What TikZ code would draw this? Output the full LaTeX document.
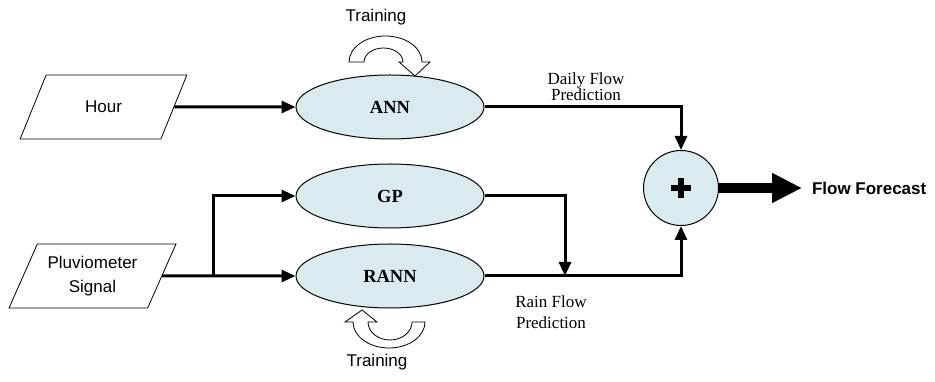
\documentclass[tikz,border=0pt]{standalone}
\usepackage{fontspec}
\setmainfont{Liberation Serif}
\newfontfamily\arialfont{Liberation Sans}
\usepackage{xcolor}
\usepackage{tikz}
\usetikzlibrary{calc,arrows.meta,positioning,shapes.geometric}
\definecolor{procfill}{HTML}{DAEBEF}
\definecolor{inkc}{HTML}{000000}
\tikzset{
  ar/.style={-{Triangle[length=14pt,width=12pt]},line width=3pt,inkc},
  inbox/.style={trapezium,trapezium left angle=62,trapezium right angle=118,trapezium stretches=true,
    draw,line width=0.8pt,minimum width=167pt,minimum height=64pt,align=center,
    font=\arialfont\fontsize{17}{24}\selectfont},
  proc/.style={ellipse,draw,line width=1pt,fill=procfill,minimum width=188pt,minimum height=64pt,
    font=\bfseries\fontsize{18.5}{20}\selectfont},
  lbl/.style={align=center,font=\fontsize{17}{15}\selectfont},
  trainlbl/.style={font=\arialfont\fontsize{17}{20}\selectfont},
  turn/.style={draw,line width=0.8pt,fill=white,line join=miter}
}
\begin{document}
\begin{tikzpicture}[x=1pt,y=1pt]
\useasboundingbox (0,0) rectangle (935,382);
\node[inbox] (hour) at (103.5,275) {Hour};
\node[inbox] (pluv) at (92.5,106) {Pluviometer\\Signal};
\node[proc] (ann) at (390,275) {ANN};
\node[proc] (gp) at (390,186) {GP};
\node[proc] (rann) at (390,106) {RANN};
\node[circle,draw,line width=1pt,fill=procfill,minimum size=75pt] (sum) at (681,194) {};
\draw[line width=6pt] ([xshift=-10pt]sum.center) -- ([xshift=10pt]sum.center);
\draw[line width=6pt] ([yshift=-10pt]sum.center) -- ([yshift=10pt]sum.center);
\node[anchor=west,inner sep=0pt,outer xsep=10pt,font=\arialfont\bfseries\fontsize{17}{20}\selectfont] (fcast) at (802,194) {Flow Forecast};
\coordinate (split) at (213,106);
\coordinate (merge) at (565,106);
\draw[ar] (hour.east) -- (ann.west);
\draw[ar] (pluv.east) -- (rann.west);
\draw[ar] (split) |- (gp.west);
\draw[ar] (ann.east) -| (sum.north);
\draw[ar] (gp.east) -| (merge);
\draw[ar] (rann.east) -| (sum.south);
\draw[-{Triangle[length=30pt,width=28pt]},line width=10pt] (sum.east) -- (fcast.west);
\node[lbl] (dailylbl) at (586,295.5) {Daily Flow\\Prediction};
\node[lbl,font=\fontsize{17}{21}\selectfont] (rainlbl) at (551,69.5) {Rain Flow\\Prediction};
\node[trainlbl] (traintop) at (376,365) {Training};
\node[trainlbl] (trainbot) at (377,20) {Training};
\draw[turn] (349,320) arc[start angle=180,end angle=0,x radius=36.5pt,y radius=26pt]
  -- (430,320) -- (415,306) -- (399,320) -- (403,320)
  arc[start angle=0,end angle=180,x radius=19.5pt,y radius=14pt] -- cycle;
\draw[turn] (368,60) -- (377,60) -- (362,72) -- (345,60) -- (353,60)
  arc[start angle=180,end angle=360,x radius=36pt,y radius=26pt]
  -- (412,60) arc[start angle=0,end angle=-180,x radius=22pt,y radius=18pt] -- cycle;
\end{tikzpicture}
\end{document}
